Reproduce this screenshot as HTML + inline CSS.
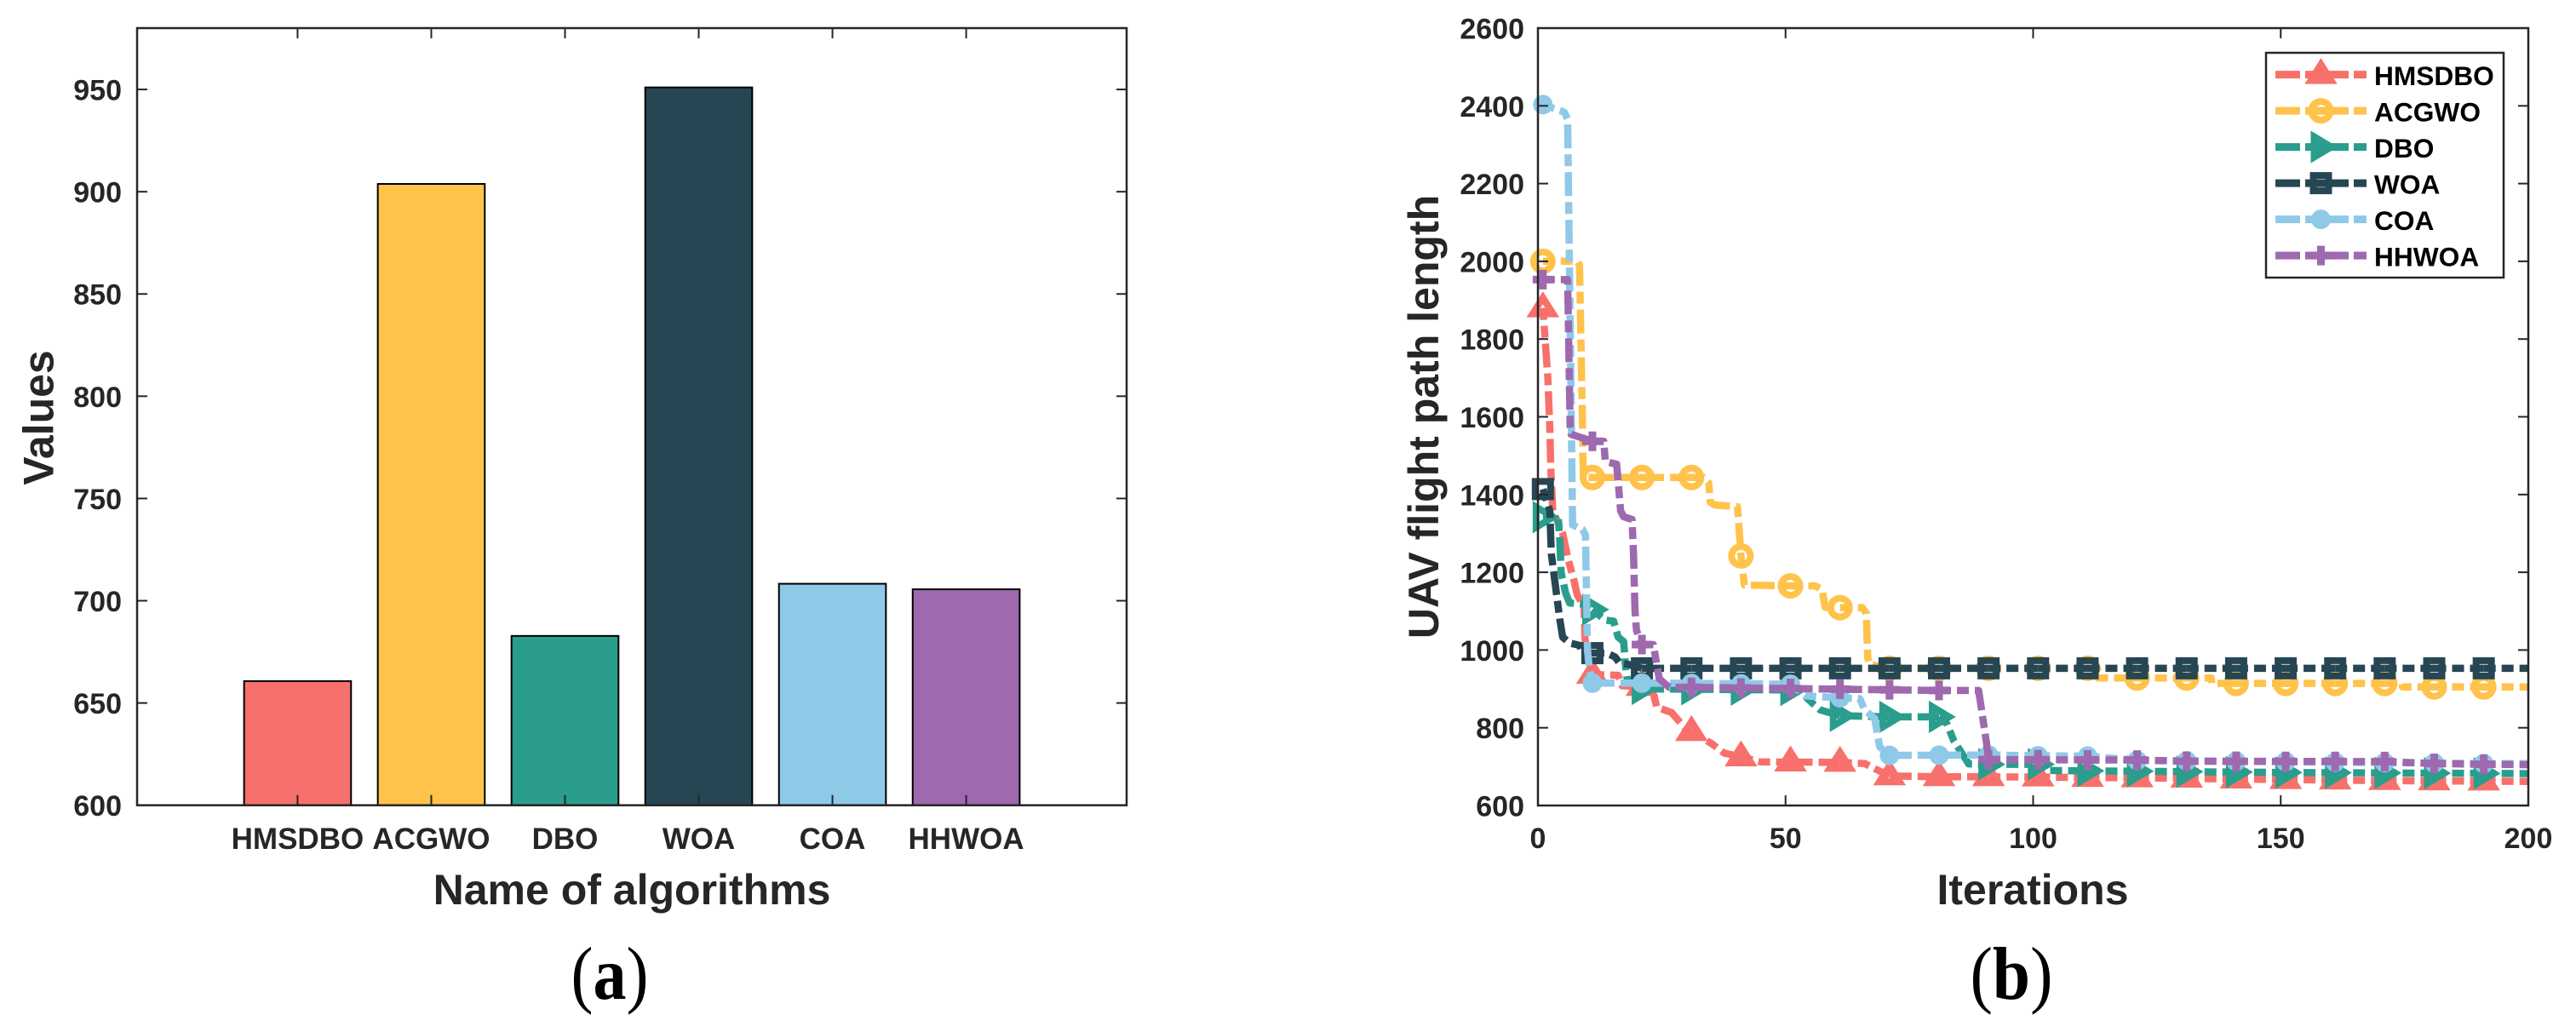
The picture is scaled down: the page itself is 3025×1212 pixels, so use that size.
<!DOCTYPE html>
<html lang="en">
<head>
<meta charset="utf-8">
<title>Algorithm comparison charts</title>
<style>
html,body{margin:0;padding:0;background:#fff;width:3025px;height:1212px;overflow:hidden}
svg{display:block}
text{font-family:"Liberation Sans",Arial,sans-serif;font-weight:700;fill:#262626}
.cap{font-family:"Liberation Serif","Times New Roman",serif;fill:#000;font-weight:400}
</style>
</head>
<body>
<svg id="figure" xmlns="http://www.w3.org/2000/svg" width="3025" height="1212" viewBox="0 0 3025 1212">
  <rect x="0" y="0" width="3025" height="1212" fill="#fff"/>
  <g id="chartA"></g>
  <g id="chartB"></g>
  <text x="742" y="1062" font-size="50" text-anchor="middle">Name of algorithms</text>
  <text transform="translate(62.5,490.5) rotate(-90)" font-size="50" text-anchor="middle">Values</text>
  <text x="2387" y="1062" font-size="50" text-anchor="middle">Iterations</text>
  <text transform="translate(1689,489.5) rotate(-90)" font-size="50" text-anchor="middle">UAV flight path length</text>
  <text class="cap" x="716" y="1173" font-size="88" text-anchor="middle" textLength="91" lengthAdjust="spacingAndGlyphs">(<tspan class="cap" style="font-weight:700">a</tspan>)</text>
  <text class="cap" x="2362" y="1173" font-size="88" text-anchor="middle" textLength="97" lengthAdjust="spacingAndGlyphs">(<tspan class="cap" style="font-weight:700">b</tspan>)</text>
</svg>
<script>
/* ---------- chart (a) data ---------- */
const barCategories = ["HMSDBO","ACGWO","DBO","WOA","COA","HHWOA"];
const barValues = [660.7,903.8,682.8,951,708.3,705.6];
const barColors = ["#F8706B","#FFC24B","#2A9D8C","#264653","#8FC9E8","#9E69AF"];
const barYTicks = [600,650,700,750,800,850,900,950];

/* ---------- chart (b) data ---------- */
const iterTicks = [0,50,100,150,200];
const lengthTicks = [600,800,1000,1200,1400,1600,1800,2000,2200,2400,2600];
const markerIters = [1,11,21,31,41,51,61,71,81,91,101,111,121,131,141,151,161,171,181,191];

const hmsdboIters = [1,2,2.4,2.6,3,5,6.1,7.3,7.9,9.3,9.5,10,11,16.2,17,23,24,27,30,31,35,37.6,41,45,61,66,68,71,81,91,101,131,141,171,200];
const hmsdboVals = [1880,1700,1570,1467,1358,1300,1233,1178,1143,1110,1030,980,937,935,908,905,853,839,795,790,760,735,725,712,711,708,695,676,674,674,673,670,668,664,662];

const acgwoIters = [1,8,8.4,9,9.1,9.2,11,33.4,34.5,34.8,35.7,40.3,40.5,41,41.7,51,56,57.4,58,61,65.5,66.3,66.6,67,71,113,113.1,136,136.1,174.5,174.6,200];
const acgwoVals = [2000,2000,1990,1577,1482,1444,1444,1444,1430,1380,1373,1369,1336,1242,1167,1165,1165,1155,1110,1109,1109,1095,979,963,953,953,928,928,914,914,905,905];

const dboIters = [1,4.1,4.4,4.7,5.6,6.4,9.3,11,13.6,15.3,16.2,17.3,17.5,17.6,18,21,52.6,55.7,57,61,71,81,82.6,84,87,91,103,103.1,150,200];
const dboVals = [1342,1343,1285,1198,1146,1121,1118,1104,1077,1074,1033,1022,992,970,927,900,897,860,846,831,828,828,810,766,707,706,706,690,685,682];

const woaIters = [1,2.4,2.7,3.8,4.4,5,6.4,8.4,9,13.9,15.6,16.5,18,21,200];
const woaVals = [1414,1358,1248,1139,1080,1033,1018,1012,992,992,982,966,964,953,953];

const coaIters = [1,3.4,5.3,6,7,9,9.6,10,10.4,11,23,51,54,61,65,66,68,69,71,91,101,111,121,191,200];
const coaVals = [2403,2392,2384,2366,1322,1310,1296,1000,950,915,915,912,882,877,875,846,824,751,729,730,728,727,716,708,708];

const hhwoaIters = [1,6,6.5,6.7,11,13.3,13.6,15.9,16.7,17.3,19,19.3,19.6,19.9,21,23.3,23.9,24.5,26.5,31,81,89,90.6,91,121,131,171,181,191,200];
const hhwoaVals = [1953,1953,1576,1555,1537,1537,1485,1478,1358,1343,1336,1248,1102,1051,1014,1014,970,926,904,904,896,896,760,718,717,714,713,708,706,705];

const seriesNames = ["HMSDBO","ACGWO","DBO","WOA","COA","HHWOA"];
const seriesMarkers = ["triangle","ring","right-triangle","square","disc","plus"];
const seriesColors = ["#F8706B","#FFC24B","#2A9D8C","#264653","#8FC9E8","#9E69AF"];
const seriesIters = [hmsdboIters,acgwoIters,dboIters,woaIters,coaIters,hhwoaIters];
const seriesVals = [hmsdboVals,acgwoVals,dboVals,woaVals,coaVals,hhwoaVals];

/* ---------- helpers ---------- */
const SVGNS = "http://www.w3.org/2000/svg";
const INK = "#262626";
function make(parent, tag, props) {
  const el = document.createElementNS(SVGNS, tag);
  for (const k in props) el.setAttribute(k, props[k]);
  parent.appendChild(el);
  return el;
}
function fmt(n){ return (Math.round(n*100)/100).toString(); }

/* ---------- axis functions ---------- */
const A = {l:161, r:1323, t:33, b:945.7};
const B = {l:1806, r:2969, t:33, b:946};
function xA(pos){ return A.l + (pos + 0.2) * (A.r - A.l) / 7.4; }
function yA(v){ return A.b - (v - 600) * (A.b - A.t) / 380; }
function xB(it){ return B.l + it * (B.r - B.l) / 200; }
function yB(v){ return B.b - (v - 600) * (B.b - B.t) / 2000; }

/* ---------- chart (a) ---------- */
const chartA = document.getElementById("chartA");
barCategories.forEach(function(cat, i){
  const cx = xA(i + 1);
  const half = 0.4 * (A.r - A.l) / 7.4;
  const bar = make(chartA, "rect", {x:fmt(cx-half), y:fmt(yA(barValues[i])), width:fmt(half*2), height:fmt(yA(600)-yA(barValues[i])), fill:barColors[i], stroke:"#000", "stroke-width":2});
  
  
});
const frameA = make(chartA, "rect", {x:A.l, y:A.t, width:A.r-A.l, height:A.b-A.t, fill:"none", stroke:INK, "stroke-width":2.5});


barCategories.forEach(function(cat, i){
  const cx = xA(i + 1);
  const t1 = make(chartA, "line", {x1:fmt(cx), x2:fmt(cx), y1:A.b, y2:A.b-12, stroke:INK, "stroke-width":2});
  
  
  const t2 = make(chartA, "line", {x1:fmt(cx), x2:fmt(cx), y1:A.t, y2:A.t+12, stroke:INK, "stroke-width":2});
  
  
  const lab = make(chartA, "text", {x:fmt(cx), y:997, "font-size":35, "text-anchor":"middle"});
  lab.textContent = cat;
  
  
});
barYTicks.forEach(function(v){
  const y = yA(v);
  if (v !== 600) {
    const t1 = make(chartA, "line", {x1:A.l, x2:A.l+12, y1:fmt(y), y2:fmt(y), stroke:INK, "stroke-width":2});
    
    
    const t2 = make(chartA, "line", {x1:A.r, x2:A.r-12, y1:fmt(y), y2:fmt(y), stroke:INK, "stroke-width":2});
    
    
  }
  const lab = make(chartA, "text", {x:143, y:fmt(y+12.5), "font-size":34, "text-anchor":"end"});
  lab.textContent = String(v);
  
  
});

/* ---------- chart (b) ---------- */
const chartB = document.getElementById("chartB");
function valueAt(iters, vals, it){
  if (it <= iters[0]) return vals[0];
  for (let i = 1; i < iters.length; i++) {
    if (it <= iters[i]) {
      const f = (it - iters[i-1]) / (iters[i] - iters[i-1]);
      return vals[i-1] + f * (vals[i] - vals[i-1]);
    }
  }
  return vals[vals.length-1];
}
function drawMarker(parent, kind, cx, cy, color){
  const common = {fill:"none", stroke:color, "stroke-width":8, "stroke-linejoin":"miter", "stroke-miterlimit":10};
  let el;
  const p = function(a){ return a.map(function(q){ return fmt(cx+q[0])+","+fmt(cy+q[1]); }).join(" "); };
  if (kind === "triangle") el = make(parent, "polygon", Object.assign({points:p([[0,-12],[12,7],[-12,7]])}, common));
  else if (kind === "right-triangle") el = make(parent, "polygon", Object.assign({points:p([[12,0],[-8,-12],[-8,12]])}, common));
  else if (kind === "ring") el = make(parent, "circle", Object.assign({cx:fmt(cx), cy:fmt(cy), r:11}, common));
  else if (kind === "square") el = make(parent, "rect", Object.assign({x:fmt(cx-9), y:fmt(cy-9), width:18, height:18}, common));
  else if (kind === "disc") el = make(parent, "circle", {cx:fmt(cx), cy:fmt(cy), r:11.5, fill:color});
  else el = make(parent, "path", {d:"M"+fmt(cx-12)+" "+fmt(cy)+"H"+fmt(cx+12)+"M"+fmt(cx)+" "+fmt(cy-11.5)+"V"+fmt(cy+11.5), fill:"none", stroke:color, "stroke-width":9});
  return el;
}
seriesNames.forEach(function(name, s){
  const iters = seriesIters[s];
  const vals = seriesVals[s];
  const color = seriesColors[s];
  const group = make(chartB, "g", {});
  
  
  /* line pieces restart their dash pattern at each marker */
  markerIters.forEach(function(m, k){
    const end = k + 1 < markerIters.length ? markerIters[k+1] : 200;
    let d = "M" + fmt(xB(m)) + " " + fmt(yB(valueAt(iters, vals, m)));
    iters.forEach(function(it, j){
      if (it > m && it < end) d += "L" + fmt(xB(it)) + " " + fmt(yB(vals[j]));
    });
    d += "L" + fmt(xB(end)) + " " + fmt(yB(valueAt(iters, vals, end)));
    const flatEarly = m < 91 && Math.abs(valueAt(iters, vals, m) - valueAt(iters, vals, end)) < 6;
    const seg = make(group, "path", {d:d, fill:"none", stroke:color, "stroke-width":8.5, "stroke-dasharray":flatEarly ? "51 7" : "28 7 14 7", "stroke-dashoffset":flatEarly ? 25 : 14, "stroke-linejoin":"round"});
    
    
  });
  markerIters.forEach(function(m){
    const mk = drawMarker(group, seriesMarkers[s], xB(m), yB(valueAt(iters, vals, m)), color);
    
    
  });
});
const frameB = make(chartB, "rect", {x:B.l, y:B.t, width:B.r-B.l, height:B.b-B.t, fill:"none", stroke:INK, "stroke-width":2.5});


iterTicks.forEach(function(v){
  const x = xB(v);
  if (v !== 0 && v !== 200) {
    const t1 = make(chartB, "line", {x1:fmt(x), x2:fmt(x), y1:B.b, y2:B.b-12, stroke:INK, "stroke-width":2});
    
    
    const t2 = make(chartB, "line", {x1:fmt(x), x2:fmt(x), y1:B.t, y2:B.t+12, stroke:INK, "stroke-width":2});
    
    
  }
  const lab = make(chartB, "text", {x:fmt(x), y:996, "font-size":34, "text-anchor":"middle"});
  lab.textContent = String(v);
  
  
});
lengthTicks.forEach(function(v){
  const y = yB(v);
  if (v !== 600 && v !== 2600) {
    const t1 = make(chartB, "line", {x1:B.l, x2:B.l+12, y1:fmt(y), y2:fmt(y), stroke:INK, "stroke-width":2});
    
    
    const t2 = make(chartB, "line", {x1:B.r, x2:B.r-12, y1:fmt(y), y2:fmt(y), stroke:INK, "stroke-width":2});
    
    
  }
  const lab = make(chartB, "text", {x:1790, y:fmt(y+12.5), "font-size":34, "text-anchor":"end"});
  lab.textContent = String(v);
  
  
});

/* ---------- legend ---------- */
const legend = make(chartB, "g", {});


const legendBox = make(legend, "rect", {x:2661, y:62, width:279, height:264, fill:"#fff", stroke:INK, "stroke-width":2.5});


seriesNames.forEach(function(name, s){
  const y = 87.6 + s * 42.5;
  const entry = make(legend, "g", {});
  
  
  const ln = make(entry, "line", {x1:2672, x2:2779, y1:fmt(y), y2:fmt(y), stroke:seriesColors[s], "stroke-width":9, "stroke-dasharray":"29 6 51 6 15"});
  
  
  const mk = drawMarker(entry, seriesMarkers[s], 2725.5, y, seriesColors[s]);
  
  
  const lab = make(entry, "text", {x:2788, y:fmt(y+12.5), "font-size":31.7, style:"fill:#000"});
  lab.textContent = name;
  
  
});
</script>
</body>
</html>
